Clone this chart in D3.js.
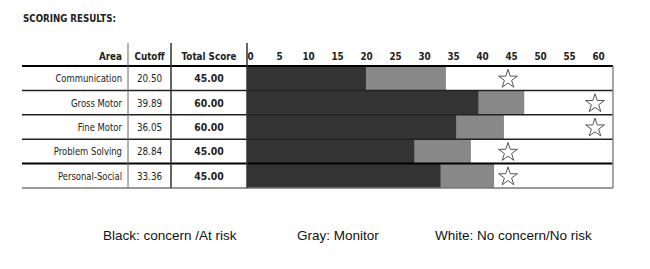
<!DOCTYPE html>
<html lang="en">
	<head>
		<meta charset="utf-8">
		<title>Scoring Results</title>
		<script type="text/javascript" src="https://cdn.jsdelivr.net/npm/d3@7"></script>
		<style type="text/css">
			body { margin: 0; background: #fff; }
			svg text { font-family: "DejaVu Sans", sans-serif; font-size: 11px; fill: #222; }
			.bold { font-weight: bold; }
			svg text.legend { font-family: "Liberation Sans", Arial, sans-serif; font-size: 13.5px; fill: #111; }
		</style>
	</head>
	<body>
		<script type="text/javascript">

			//Data
			var areas = ["Communication", "Gross Motor", "Fine Motor", "Problem Solving", "Personal-Social"];
			var cutoffs = [20.50, 39.89, 36.05, 28.84, 33.36];
			var monitorEnds = [34.3, 47.8, 44.3, 38.6, 42.6];
			var totals = [45, 60, 60, 45, 45];
			var tickValues = [0, 5, 10, 15, 20, 25, 30, 35, 40, 45, 50, 55, 60];
			var legendItems = ["Black: concern /At risk", "Gray: Monitor", "White: No concern/No risk"];

			//Width and height
			var w = 650;
			var h = 269;
			var tableLeft = 22;
			var col1 = 128, col2 = 171;   //column separators
			var barLeft = 247, barRight = 613;
			var gridTop = 66, gridBottom = 188;

			var svg = d3.select("body")
						.append("svg")
						.attr("width", w)
						.attr("height", h);

			//narrow the table texts around their anchor point (the table font is a narrow one)
			function squeeze(sel, k) {
				sel.each(function() {
					var t = d3.select(this);
					var x = +t.attr("x") || 0, y = +t.attr("y") || 0;
					t.attr("x", 0).attr("y", 0)
					 .attr("transform", "translate(" + x + "," + y + ") scale(" + k + ",1)");
				});
			}

			//Scales
			var xScale = d3.scaleLinear()
						   .domain([0, 63.1])
						   .range([barLeft, barRight]);

			var yScale = d3.scaleBand()
						   .domain(areas)
						   .range([gridTop, gridBottom]);

			var rows = areas.map(function(a, i) {
				return { area: a, cutoff: cutoffs[i], monitor: monitorEnds[i], total: totals[i] };
			});

			//Title
			svg.append("text")
			   .attr("class", "bold")
			   .attr("x", tableLeft + 1)
			   .attr("y", 22)
			   .text("SCORING RESULTS:")
			   .call(squeeze, 0.79);

			//Bars: white background, gray monitor, black concern
			svg.append("rect")
			   .attr("x", barLeft)
			   .attr("y", gridTop)
			   .attr("width", barRight - barLeft)
			   .attr("height", gridBottom - gridTop)
			   .attr("fill", "#fff");

			svg.selectAll("rect.gray")
			   .data(rows)
			   .enter()
			   .append("rect")
			   .attr("class", "gray")
			   .attr("x", xScale(0))
			   .attr("y", function(d) { return yScale(d.area); })
			   .attr("width", function(d) { return xScale(d.monitor) - xScale(0); })
			   .attr("height", yScale.bandwidth())
			   .attr("fill", "#888");

			svg.selectAll("rect.black")
			   .data(rows)
			   .enter()
			   .append("rect")
			   .attr("class", "black")
			   .attr("x", xScale(0))
			   .attr("y", function(d) { return yScale(d.area); })
			   .attr("width", function(d) { return xScale(d.cutoff) - xScale(0); })
			   .attr("height", yScale.bandwidth())
			   .attr("fill", "#333");

			//Stars at total score
			var star = d3.symbol().type(d3.symbolStar).size(110);
			svg.selectAll("path.star")
			   .data(rows)
			   .enter()
			   .append("path")
			   .attr("class", "star")
			   .attr("d", star)
			   .attr("transform", function(d) {
			   		return "translate(" + xScale(d.total) + "," + (yScale(d.area) + yScale.bandwidth() / 2 + 1) + ")";
			   })
			   .attr("fill", "#fff")
			   .attr("stroke", "#555")
			   .attr("stroke-width", 1);

			//Row lines
			var lineYs = areas.map(function(a) { return yScale(a); }).concat([gridBottom]);
			svg.selectAll("line.row")
			   .data(lineYs)
			   .enter()
			   .append("line")
			   .attr("class", "row")
			   .attr("x1", tableLeft)
			   .attr("x2", barRight)
			   .attr("y1", function(d) { return d; })
			   .attr("y2", function(d) { return d; })
			   .attr("stroke", function(d, i) { return (i == 0 || i == 4) ? "#000" : (i == 5 ? "#777" : "#222"); })
			   .attr("stroke-width", function(d, i) { return (i == 0 || i == 4) ? 2 : 1.5; });

			//Column separators
			svg.selectAll("line.col")
			   .data([col1, col2, barLeft])
			   .enter()
			   .append("line")
			   .attr("class", "col")
			   .attr("x1", function(d) { return d; })
			   .attr("x2", function(d) { return d; })
			   .attr("y1", 43)
			   .attr("y2", gridBottom)
			   .attr("stroke", function(d, i) { return i == 0 ? "#666" : "#333"; })
			   .attr("stroke-width", function(d, i) { return i == 0 ? 1 : 1.5; });

			//Right border
			svg.append("line")
			   .attr("x1", barRight)
			   .attr("x2", barRight)
			   .attr("y1", gridTop)
			   .attr("y2", gridBottom)
			   .attr("stroke", "#888")
			   .attr("stroke-width", 1.5);

			//Header
			svg.append("text").attr("class", "bold").attr("x", col1 - 6).attr("y", 60)
			   .attr("text-anchor", "end").text("Area").call(squeeze, 0.8);
			svg.append("text").attr("class", "bold").attr("x", (col1 + col2) / 2).attr("y", 60)
			   .attr("text-anchor", "middle").text("Cutoff").call(squeeze, 0.8);
			svg.append("text").attr("class", "bold").attr("x", (col2 + barLeft) / 2).attr("y", 60)
			   .attr("text-anchor", "middle").text("Total Score").call(squeeze, 0.8);

			//X axis (score ticks)
			var xAxis = d3.axisTop()
						  .scale(xScale)
						  .tickValues(tickValues)
						  .tickSize(0)
						  .tickPadding(0);

			var axisG = svg.append("g")
						   .attr("transform", "translate(3,60)")
						   .call(xAxis);
			axisG.select(".domain").remove();
			axisG.attr("font-family", null).attr("font-size", null);
			axisG.selectAll("text")
				 .attr("class", "bold")
				 .attr("fill", "#222")
				 .attr("dy", null)
				 .call(squeeze, 0.8);

			//Table cells
			svg.selectAll("text.area")
			   .data(rows)
			   .enter()
			   .append("text")
			   .attr("class", "area")
			   .attr("x", col1 - 6)
			   .attr("y", function(d) { return yScale(d.area) + yScale.bandwidth() / 2 + 4; })
			   .attr("text-anchor", "end")
			   .text(function(d) { return d.area; })
			   .call(squeeze, 0.77);

			svg.selectAll("text.cutoff")
			   .data(rows)
			   .enter()
			   .append("text")
			   .attr("class", "cutoff")
			   .attr("x", (col1 + col2) / 2)
			   .attr("y", function(d) { return yScale(d.area) + yScale.bandwidth() / 2 + 4; })
			   .attr("text-anchor", "middle")
			   .text(function(d) { return d.cutoff.toFixed(2); })
			   .call(squeeze, 0.8);

			svg.selectAll("text.total")
			   .data(rows)
			   .enter()
			   .append("text")
			   .attr("class", "total bold")
			   .attr("x", (col2 + barLeft) / 2)
			   .attr("y", function(d) { return yScale(d.area) + yScale.bandwidth() / 2 + 4; })
			   .attr("text-anchor", "middle")
			   .text(function(d) { return d.total.toFixed(2); })
			   .call(squeeze, 0.85);

			//Legend
			var legendX = [103, 297, 435];
			svg.selectAll("text.legend")
			   .data(legendItems)
			   .enter()
			   .append("text")
			   .attr("class", "legend")
			   .attr("x", function(d, i) { return legendX[i]; })
			   .attr("y", 240)
			   .text(function(d) { return d; });

		</script>
	</body>
</html>
